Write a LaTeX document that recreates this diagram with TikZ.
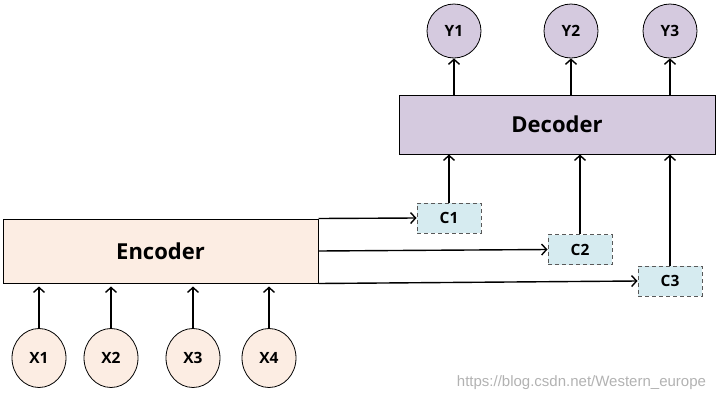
\documentclass[tikz,border=0pt]{standalone}
\usepackage{fontspec}
\setmainfont{Open Sans}
\newfontfamily\markfont{Liberation Sans}
\usetikzlibrary{arrows.meta, shapes.geometric}

\definecolor{encfill}{HTML}{FCEDE3}
\definecolor{decfill}{HTML}{D5CADF}
\definecolor{ctxfill}{HTML}{D6EBF0}

\begin{document}
\begin{tikzpicture}[x=1pt, y=-1pt, line width=1.4pt,
    >={Straight Barb[length=5pt,width=11pt]},
    block/.style={draw, line width=1pt, minimum width=315pt, font=\bfseries\fontsize{22}{26}\selectfont},
    ctx/.style={draw=black!65, fill=ctxfill, dash pattern=on 4pt off 3pt, line width=1pt,
      minimum width=64pt, minimum height=30pt, font=\bfseries\fontsize{15.5}{18}\selectfont},
    word/.style={draw, line width=0.8pt, font=\bfseries\fontsize{15.5}{18}\selectfont}]
    \useasboundingbox (0,0) rectangle (718,402);
    \node [block, fill=encfill, minimum height=64pt] (enc) at (160.5, 251) {Encoder};
    \node [block, fill=decfill, minimum height=59pt, minimum width=316pt] (dec) at (557, 124.5) {Decoder};
    \node [ctx] (c1) at (449, 218) {C1};
    \node [ctx] (c2) at (580, 249.5) {C2};
    \node [ctx] (c3) at (670, 281) {C3};
    \node [word, circle, fill=decfill, minimum size=54pt] (y1) at (454, 31) {Y1};
    \node [word, circle, fill=decfill, minimum size=54pt] (y2) at (571, 31) {Y2};
    \node [word, circle, fill=decfill, minimum size=54pt] (y3) at (670, 31) {Y3};
    \node [word, ellipse, fill=encfill, minimum width=54pt, minimum height=59pt] (x1) at (39, 358) {X1};
    \node [word, ellipse, fill=encfill, minimum width=54pt, minimum height=59pt] (x2) at (111, 358) {X2};
    \node [word, ellipse, fill=encfill, minimum width=54pt, minimum height=59pt] (x3) at (193, 358) {X3};
    \node [word, ellipse, fill=encfill, minimum width=54pt, minimum height=59pt] (x4) at (269, 358) {X4};
    \node [font=\markfont\fontsize{15}{17}\selectfont, text=black!30, anchor=east] (mark) at (710, 383) {https://blog.csdn.net/Western\_europe};
    \draw [->, shorten >=3pt] (x1.north) -- (x1.north |- enc.south);
    \draw [->, shorten >=3pt] (x2.north) -- (x2.north |- enc.south);
    \draw [->, shorten >=3pt] (x3.north) -- (x3.north |- enc.south);
    \draw [->, shorten >=3pt] (x4.north) -- (x4.north |- enc.south);
    \draw [->] (enc.north east) -- (c1.west);
    \draw [->] (enc.east) -- (c2.west);
    \draw [->] (enc.south east) -- (c3.west);
    \draw [->] (c1.north) -- (c1.north |- dec.south);
    \draw [->] (c2.north) -- (c2.north |- dec.south);
    \draw [->] (c3.north) -- (c3.north |- dec.south);
    \draw [->] (dec.north -| y1.south) -- (y1.south);
    \draw [->] (dec.north -| y2.south) -- (y2.south);
    \draw [->] (dec.north -| y3.south) -- (y3.south);
  \end{tikzpicture}
\end{document}
